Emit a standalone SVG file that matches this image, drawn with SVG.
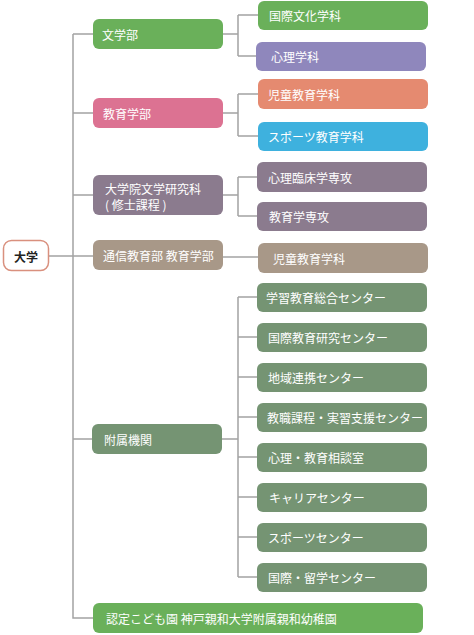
<svg xmlns="http://www.w3.org/2000/svg" width="474" height="635" viewBox="0 0 474 635">
<style>
.t{font-family:"Noto Sans CJK JP","Noto Sans",sans-serif;font-size:12px;fill:#fff;dominant-baseline:central}
.ln{stroke:#a3a3a3;stroke-width:1.5;fill:none}
.g{fill:#6ab05a}.pu{fill:#8f87bc}.pk{fill:#dc7292}.sa{fill:#e58a70}.bl{fill:#3eb1de}.mv{fill:#8b7b8e}.tn{fill:#a89888}.gg{fill:#759473}
</style>
<rect width="474" height="635" fill="#fff"/>
<g id="connectors" class="ln">
<path d="M49 256H73M73 34V618H93M73 34H93M73 113H93M73 195H93M73 256H93M73 439H93"/>
<path d="M222 34H238M238 15V56M238 15H258M238 56H256"/>
<path d="M222 113H238M238 94V136M238 94H258M238 136H258"/>
<path d="M222 195H238M238 177V216M238 177H257M238 216H257"/>
<path d="M222 257H258"/>
<path d="M222 439H238M238 297V577M238 297H257M238 337H257M238 377H257M238 417H257M238 457H257M238 497H257M238 537H257M238 577H257"/>
</g>
<g id="n-daigaku"><rect x="3.5" y="240.5" width="45" height="30" rx="8" fill="#fff" stroke="#d9907e" stroke-width="1.5"/><text class="t" x="26" y="256" text-anchor="middle" style="fill:#222;font-weight:bold">大学</text></g>
<g id="n-bungaku"><rect class="g" x="93" y="19" width="130" height="30" rx="6"/><text class="t" x="102" y="34">文学部</text></g>
<g id="n-kyoiku"><rect class="pk" x="93" y="98" width="130" height="30" rx="6"/><text class="t" x="103" y="113">教育学部</text></g>
<g id="n-daigakuin"><rect class="mv" x="93" y="175" width="130" height="40" rx="6"/><text class="t" x="105" y="188">大学院文学研究科</text><text class="t" x="105" y="204">( 修士課程 )</text></g>
<g id="n-tsushin"><rect class="tn" x="93" y="240" width="130" height="30" rx="6"/><text class="t" x="103" y="255">通信教育部 教育学部</text></g>
<g id="n-fuzoku"><rect class="gg" x="92" y="424" width="130" height="30" rx="6"/><text class="t" x="104" y="439">附属機関</text></g>
<g id="n-kodomo"><rect class="g" x="93" y="603" width="330" height="30" rx="6"/><text class="t" x="106" y="618">認定こども園 神戸親和大学附属親和幼稚園</text></g>
<g id="n-kokusaibunka"><rect class="g" x="258" y="1" width="170" height="29" rx="6"/><text class="t" x="269" y="15">国際文化学科</text></g>
<g id="n-shinri"><rect class="pu" x="256" y="42" width="170" height="29" rx="6"/><text class="t" x="271" y="56">心理学科</text></g>
<g id="n-jido"><rect class="sa" x="258" y="79" width="170" height="30" rx="6"/><text class="t" x="268" y="94">児童教育学科</text></g>
<g id="n-sports"><rect class="bl" x="258" y="122" width="170" height="29" rx="6"/><text class="t" x="268" y="136">スポーツ教育学科</text></g>
<g id="n-rinsho"><rect class="mv" x="257" y="162" width="170" height="30" rx="6"/><text class="t" x="268" y="177">心理臨床学専攻</text></g>
<g id="n-kyoikusenko"><rect class="mv" x="257" y="202" width="170" height="29" rx="6"/><text class="t" x="269" y="216">教育学専攻</text></g>
<g id="n-jido2"><rect class="tn" x="258" y="243" width="170" height="30" rx="6"/><text class="t" x="273" y="258">児童教育学科</text></g>
<g id="n-c1"><rect class="gg" x="257" y="283" width="170" height="29" rx="6"/><text class="t" x="266" y="297">学習教育総合センター</text></g>
<g id="n-c2"><rect class="gg" x="257" y="323" width="170" height="29" rx="6"/><text class="t" x="268" y="337">国際教育研究センター</text></g>
<g id="n-c3"><rect class="gg" x="257" y="363" width="170" height="29" rx="6"/><text class="t" x="268" y="377">地域連携センター</text></g>
<g id="n-c4"><rect class="gg" x="257" y="403" width="170" height="29" rx="6"/><text class="t" x="267" y="417">教職課程・実習支援センター</text></g>
<g id="n-c5"><rect class="gg" x="257" y="443" width="170" height="29" rx="6"/><text class="t" x="268" y="457">心理・教育相談室</text></g>
<g id="n-c6"><rect class="gg" x="257" y="483" width="170" height="29" rx="6"/><text class="t" x="269" y="497">キャリアセンター</text></g>
<g id="n-c7"><rect class="gg" x="257" y="523" width="170" height="29" rx="6"/><text class="t" x="268" y="537">スポーツセンター</text></g>
<g id="n-c8"><rect class="gg" x="257" y="563" width="170" height="29" rx="6"/><text class="t" x="268" y="577">国際・留学センター</text></g>
</svg>
